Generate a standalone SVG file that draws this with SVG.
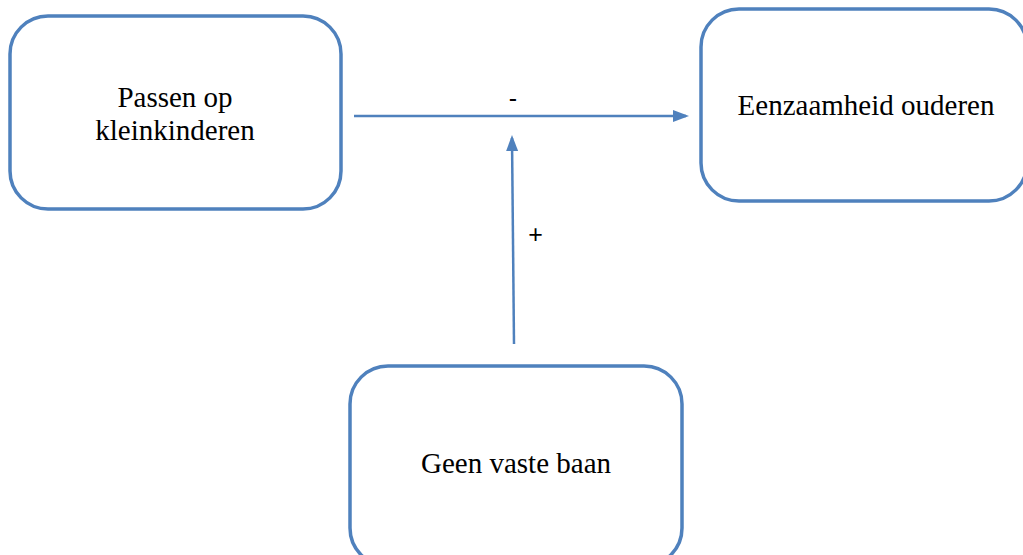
<svg xmlns="http://www.w3.org/2000/svg" width="1023" height="555" viewBox="0 0 1023 555">
<style>
.box{fill:#fff;stroke:#4F81BD;stroke-width:3.5}
.t{font-family:"Liberation Serif",serif;font-size:29px;fill:#000;text-anchor:middle}
.l{font-family:"Liberation Sans",sans-serif;font-size:25px;fill:#000;text-anchor:middle}
.c{stroke:#4F81BD;stroke-width:2.5;fill:none}
</style>
<defs>
<marker id="ah" markerWidth="16" markerHeight="16" refX="13" refY="6" orient="auto" markerUnits="userSpaceOnUse" viewBox="0 0 16 12">
<path d="M0,0 L16,6 L0,12 Z" fill="#4F81BD"/>
</marker>
</defs>
<rect width="1023" height="555" fill="#fff"/>
<g id="node-passen">
<rect class="box" x="10" y="16" width="331" height="193" rx="38" ry="38"/>
<text class="t" x="175" y="107">Passen op</text>
<text class="t" x="175" y="140">kleinkinderen</text>
</g>
<g id="node-eenzaamheid">
<rect class="box" x="701" y="9" width="326" height="192" rx="38" ry="38"/>
<text class="t" x="866" y="115">Eenzaamheid ouderen</text>
</g>
<g id="node-geen">
<rect class="box" x="350" y="366" width="332" height="200" rx="38" ry="38"/>
<text class="t" x="516" y="473">Geen vaste baan</text>
</g>
<g id="connectors">
<line class="c" x1="354" y1="116" x2="686" y2="116" marker-end="url(#ah)"/>
<line class="c" x1="514" y1="344" x2="512" y2="138" marker-end="url(#ah)"/>
<text class="l" x="513" y="107">-</text>
<text class="l" x="535.5" y="242.5">+</text>
</g>
</svg>
